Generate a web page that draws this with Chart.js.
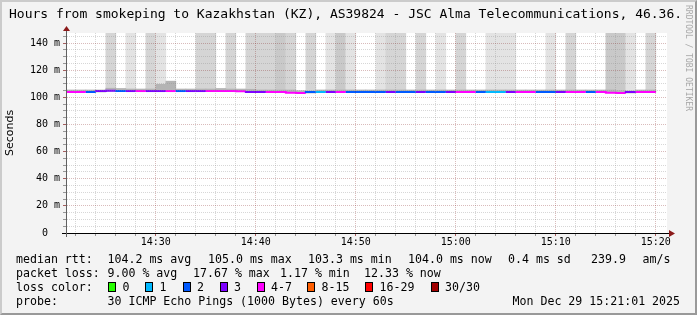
<!DOCTYPE html>
<html>
<head>
<meta charset="utf-8">
<script src="https://cdn.jsdelivr.net/npm/chart.js@4.4.1/dist/chart.umd.min.js"></script>
<style>
  html, body { margin: 0; padding: 0; background: #f3f3f3; }
  #wrap { position: relative; width: 697px; height: 315px; overflow: hidden; }
  #c { position: absolute; left: 0; top: 0; }
  #frame { position: absolute; left: 0; top: 0; width: 697px; height: 315px; box-sizing: border-box;
           border: 2px solid; border-color: #cbcbcb #999 #999 #cbcbcb; pointer-events: none; }
  .t { position: absolute; font-family: "DejaVu Sans Mono", monospace; white-space: pre; color: #000; }
  .lg { font-size: 11.6px; line-height: 14px; }
  .title { font-size: 13px; line-height: 16px; }
  .side { position: absolute; left: 692px; top: 5px; transform-origin: 0 0; transform: rotate(90deg);
          font-family: "DejaVu Sans Mono", monospace; font-size: 8px; line-height: 8px; color: #a8a8a8; white-space: pre; }
  .box { position: absolute; width: 6px; height: 8px; border: 1px solid #000; }
</style>
</head>
<body>
<div id="wrap">
  <canvas id="c" width="697" height="315"></canvas>
  <div class="t title" style="left:9px;top:6px">Hours from smokeping to Kazakhstan (KZ), AS39824 - JSC Alma Telecommunications, 46.36.</div>
  <div class="side">RRDTOOL / TOBI OETIKER</div>
  <div id="legend"></div>
  <div id="frame"></div>
</div>
<script>
// one sample per minute, first sample is 14:21-14:22
const medianRtt = [104.0, 104.0, 104.0, 104.0, 104.7, 105.0, 104.7, 104.7, 104.7, 104.7,
  104.7, 104.7, 104.7, 104.7, 104.7, 104.7, 104.7, 104.7, 104.5, 104.0,
  104.0, 104.0, 104.0, 103.5, 103.3, 104.0, 104.0, 104.0, 104.0, 104.0,
  104.0, 104.0, 104.0, 104.0, 104.0, 104.0, 104.0, 104.0, 104.0, 104.0,
  104.0, 104.0, 104.0, 104.0, 104.0, 104.0, 104.0, 104.0, 104.0, 104.0,
  104.0, 104.0, 104.0, 104.0, 104.0, 103.5, 103.3, 104.0, 104.0];
// packet loss in %
const lossPct = [13.0, 13.3, 5.5, 8.7, 8.7, 5.5, 8.7, 12.7, 8.7, 8.7,
  13.0, 5.5, 8.7, 8.7, 12.7, 13.0, 13.3, 12.7, 8.7, 8.7,
  13.0, 13.3, 17.67, 13.0, 5.5, 2.33, 8.7, 12.7, 5.5, 5.5,
  5.5, 5.5, 8.7, 5.5, 5.5, 8.7, 5.5, 5.5, 8.7, 13.0,
  12.7, 5.5, 1.17, 3.0, 8.7, 13.0, 12.7, 5.5, 5.5, 8.7,
  13.0, 12.7, 5.5, 13.0, 13.3, 12.7, 8.7, 13.0, 12.33];
// pings far above the top of the graph (smoke up to the top)
const highPings = [0, 0, 0, 0, 2, 0, 1, 0, 2, 1,
  0, 0, 0, 2, 2, 0, 2, 0, 2, 2,
  2, 3, 2, 0, 2, 0, 1, 3, 1, 0,
  0, 1, 2, 2, 0, 2, 0, 1, 0, 2,
  0, 0, 1, 1, 1, 0, 0, 0, 1, 0,
  2, 0, 0, 0, 3, 3, 1, 0, 2];
// upper edge of the smoke close to the median
const smokeNear = [105.5, 105.5, 105.5, 105.5, 106.8, 106.6, 106.2, 106.2, 106.2, 109.7,
  112.0, 106.2, 106.2, 106.2, 106.2, 106.6, 106.2, 106.2, 106.0, 105.5,
  105.5, 105.5, 105.5, 105.0, 104.8, 105.5, 105.5, 105.5, 105.5, 105.5,
  105.5, 105.5, 105.5, 105.5, 105.5, 105.5, 105.5, 105.5, 105.5, 105.5,
  105.5, 105.5, 105.5, 105.5, 105.5, 105.5, 105.5, 105.5, 105.5, 105.5,
  105.5, 105.5, 105.5, 105.5, 105.5, 105.0, 104.8, 105.5, 105.5];
const graphTop = 147.5;

const gridMinutes = [1, 3, 5, 7, 9, 11, 13, 15, 17, 19, 21, 23, 25, 27, 29, 31, 33, 35, 37, 39,
  41, 43, 45, 47, 49, 51, 53, 55, 57, 59];
const labelMinutes = [9, 19, 29, 39, 49, 59];
const timeLabels = ['14:30', '14:40', '14:50', '15:00', '15:10', '15:20'];
const yGrid = [0, 5, 10, 15, 20, 25, 30, 35, 40, 45, 50, 55, 60, 65, 70, 75, 80, 85, 90, 95,
  100, 105, 110, 115, 120, 125, 130, 135, 140, 145];

const lossNames = ['0', '1', '2', '3', '4-7', '8-15', '16-29', '30/30'];
const lossColors = ['#26ff00', '#00b8ff', '#0059ff', '#7e00ff', '#ff00ff', '#ff5e00', '#ff0000', '#a10000'];
const lossUpper = [0, 1, 2, 3, 7, 15, 29, 30];

const legendRows = [
  [[16, 'median rtt:'], [107.5, '104.2 ms avg'], [208, '105.0 ms max'], [308, '103.3 ms min'],
   [408, '104.0 ms now'], [508, '0.4 ms sd'], [591, '239.9'], [642.5, 'am/s']],
  [[16, 'packet loss:'], [107.5, '9.00 % avg'], [193, '17.67 % max'], [280, '1.17 % min'], [364, '12.33 % now']],
  [[16, 'loss color:']],
  [[16, 'probe:'], [107.5, '30 ICMP Echo Pings (1000 Bytes) every 60s'], [512.5, 'Mon Dec 29 15:21:01 2025']]
];
const legendTop = [252, 266, 280, 294];
const boxLeft = [108, 145, 182.5, 219.5, 256.5, 307, 365, 430.5];

function lossColor(pct) {
  const lost = pct * 30 / 100;
  for (let k = 0; k < lossUpper.length; k++) {
    if (lost <= lossUpper[k]) return lossColors[k];
  }
  return lossColors[lossColors.length - 1];
}

const shades = ['rgba(0,0,0,0)', '#e3e3e3', '#d5d5d5', '#c9c9c9'];

// legend
const legend = document.getElementById('legend');
legendRows.forEach((row, r) => {
  row.forEach(([x, text]) => {
    const d = document.createElement('div');
    d.className = 't lg';
    d.style.left = x + 'px';
    d.style.top = legendTop[r] + 'px';
    d.textContent = text;
    legend.appendChild(d);
  });
});
lossNames.forEach((name, k) => {
  const b = document.createElement('div');
  b.className = 'box';
  b.style.left = boxLeft[k] + 'px';
  b.style.top = '282px';
  b.style.background = lossColors[k];
  legend.appendChild(b);
  const d = document.createElement('div');
  d.className = 't lg';
  d.style.left = (boxLeft[k] + 14.5) + 'px';
  d.style.top = legendTop[2] + 'px';
  d.textContent = name;
  legend.appendChild(d);
});

const rrdDecor = {
  id: 'rrdDecor',
  beforeDraw(chart) {
    const {ctx, chartArea: a} = chart;
    ctx.save();
    ctx.fillStyle = '#ffffff';
    ctx.fillRect(a.left, a.top, a.right - a.left + 1, a.bottom - a.top);
    ctx.restore();
  },
  afterDraw(chart) {
    const {ctx, chartArea: a} = chart;
    ctx.save();
    ctx.lineWidth = 1;
    ctx.strokeStyle = '#000';
    ctx.beginPath();
    ctx.moveTo(a.left - 4, a.bottom + 0.5); ctx.lineTo(a.right + 4, a.bottom + 0.5);
    ctx.stroke();
    ctx.strokeStyle = '#606060';
    ctx.beginPath();
    ctx.moveTo(a.left + 0.5, a.bottom + 4); ctx.lineTo(a.left + 0.5, a.bottom);
    ctx.moveTo(a.left + 0.5, a.top); ctx.lineTo(a.left + 0.5, a.top - 2);
    ctx.stroke();
    ctx.fillStyle = '#8b1a1a';
    ctx.beginPath();
    ctx.moveTo(a.left + 0.5, a.top - 7); ctx.lineTo(a.left - 3, a.top - 2); ctx.lineTo(a.left + 4, a.top - 2);
    ctx.closePath(); ctx.fill();
    ctx.beginPath();
    ctx.moveTo(a.right + 9, a.bottom + 0.5); ctx.lineTo(a.right + 3, a.bottom - 3); ctx.lineTo(a.right + 3, a.bottom + 4);
    ctx.closePath(); ctx.fill();
    ctx.restore();
  }
};

Chart.defaults.font.family = "'DejaVu Sans Mono', monospace";
Chart.defaults.color = '#000';

const minorGrid = 'rgba(140,140,140,0.35)';
const majorGrid = 'rgba(130,30,30,0.3)';
const minorTick = 'rgba(110,110,110,0.7)';
const majorTick = 'rgba(130,30,30,0.7)';

new Chart(document.getElementById('c'), {
  data: {
    datasets: [
      {
        type: 'line',
        label: 'median rtt',
        data: medianRtt.map((v, i) => ({x: i, y: v})).concat([{x: medianRtt.length, y: medianRtt[medianRtt.length - 1]}]),
        stepped: 'after',
        borderWidth: 2,
        pointRadius: 0,
        borderColor: lossColors[0],
        segment: { borderColor: c => lossColor(lossPct[Math.min(c.p0DataIndex, lossPct.length - 1)]) },
        order: 0
      },
      {
        type: 'bar',
        label: 'smoke near',
        data: medianRtt.map((v, i) => ({x: i + 0.5, y: [v, smokeNear[i]]})),
        backgroundColor: '#b4b4b4',
        grouped: false,
        categoryPercentage: 1,
        barPercentage: 1,
        order: 1
      },
      {
        type: 'bar',
        label: 'smoke high',
        data: medianRtt.map((v, i) => ({x: i + 0.5, y: highPings[i] ? [v, graphTop] : null})),
        backgroundColor: c => shades[Math.min(highPings[c.dataIndex] || 0, 3)],
        grouped: false,
        categoryPercentage: 1,
        barPercentage: 1,
        order: 2
      }
    ]
  },
  options: {
    responsive: false,
    animation: false,
    devicePixelRatio: 1,
    layout: { padding: { left: 0, top: 33, right: 31, bottom: 0 } },
    plugins: { legend: { display: false }, tooltip: { enabled: false } },
    scales: {
      x: {
        type: 'linear',
        offset: false,
        min: 1 / 60,
        max: 60 + 1 / 60,
        afterFit: s => { s.height = 82; },
        afterBuildTicks: s => { s.ticks = gridMinutes.map(v => ({value: v})); },
        ticks: {
          autoSkip: false, maxRotation: 0, padding: 0,
          font: { size: 10 },
          callback: v => { const k = labelMinutes.indexOf(v); return k < 0 ? '' : timeLabels[k]; }
        },
        grid: {
          z: 1, tickLength: 3, offset: false,
          color: c => (labelMinutes.includes(c.tick && c.tick.value) ? majorGrid : minorGrid),
          tickColor: c => (labelMinutes.includes(c.tick && c.tick.value) ? majorTick : minorTick)
        },
        border: { z: 2, color: '#000', dash: [1, 1] }
      },
      y: {
        min: 0,
        max: graphTop,
        afterFit: s => { s.width = 66; },
        afterBuildTicks: s => { s.ticks = yGrid.map(v => ({value: v})); },
        ticks: {
          autoSkip: false,
          padding: 3,
          font: { size: 10 },
          callback: v => (v % 20 ? '' : (v === 0 ? '0  ' : v + ' m'))
        },
        title: { display: true, text: 'Seconds', font: { family: "'DejaVu Sans', sans-serif", size: 11 }, padding: { top: 3.4, bottom: 0 } },
        grid: {
          z: 1, tickLength: 3,
          color: c => ((c.tick && c.tick.value % 20 === 0) ? majorGrid : minorGrid),
          tickColor: c => ((c.tick && c.tick.value % 20 === 0) ? majorTick : minorTick)
        },
        border: { z: 2, color: '#606060', dash: [1, 1] }
      }
    }
  },
  plugins: [rrdDecor]
});
</script>
</body>
</html>
